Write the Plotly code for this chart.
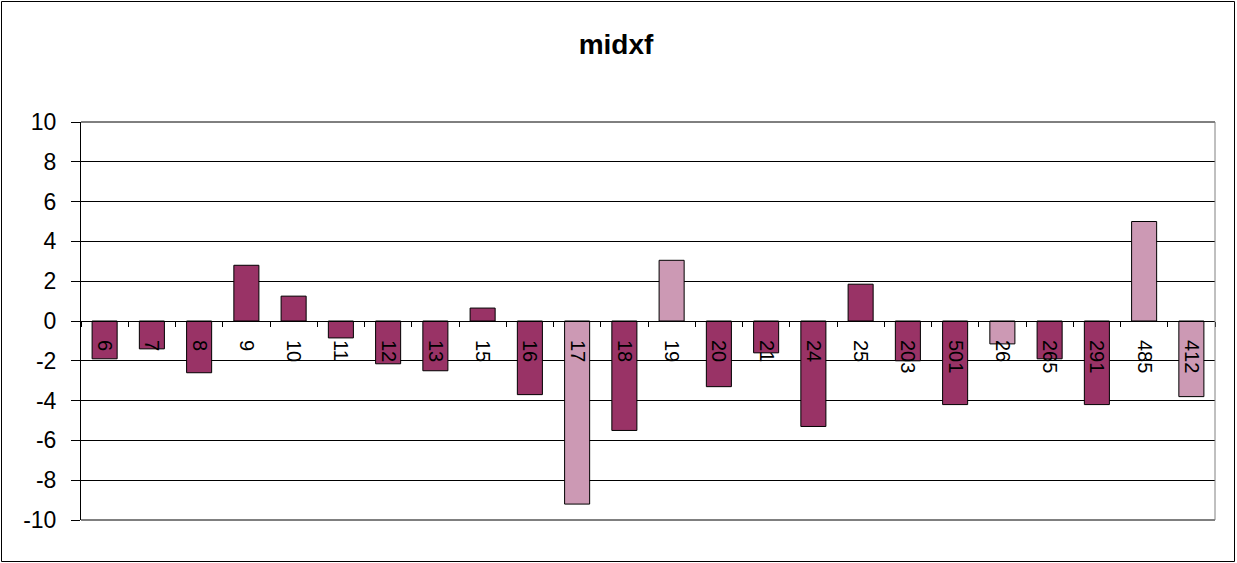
import plotly.graph_objects as go

categories = ["6", "7", "8", "9", "10", "11", "12", "13", "15", "16", "17", "18",
              "19", "20", "21", "24", "25", "203", "501", "26", "265", "291", "485", "412"]
values = [-1.9, -1.4, -2.6, 2.8, 1.25, -0.85, -2.15, -2.5, 0.65, -3.7, -9.2, -5.5,
          3.05, -3.3, -1.6, -5.3, 1.85, -2.0, -4.2, -1.15, -1.9, -4.2, 5.0, -3.8]
highlighted = ["17", "19", "26", "485", "412"]
y_ticks = [-10, -8, -6, -4, -2, 0, 2, 4, 6, 8, 10]
title_text = "midxf"

DARK = "#993366"
LIGHT = "#CC99B4"
colors = [LIGHT if c in highlighted else DARK for c in categories]

W, H = 1237, 563
L, R, T, B = 81, 22, 122, 43
pw, ph = W - L - R, H - T - B

fig = go.Figure(go.Bar(
    x=categories, y=values,
    marker=dict(color=colors, line=dict(color="#000000", width=1)),
    hoverinfo="x+y",
))

fig.update_layout(
    width=W, height=H,
    margin=dict(l=L, r=R, t=T, b=B, pad=0),
    paper_bgcolor="white", plot_bgcolor="white",
    font=dict(family="Liberation Sans, Arial, sans-serif", color="black"),
    bargap=0.47,
    showlegend=False,
    title=dict(text="<b>%s</b>" % title_text, font=dict(size=28),
               x=616 / W, xref="container", xanchor="center",
               y=1 - 44 / H, yref="container", yanchor="middle"),
)

fig.update_xaxes(
    type="category",
    anchor="free", position=0.5,
    showline=True, linecolor="black", linewidth=1,
    ticks="outside", tickson="boundaries", ticklen=5, tickcolor="black",
    tickangle=90, tickfont=dict(size=20),
    ticklabelstandoff=14,
    showgrid=False, zeroline=False,
)
fig.update_yaxes(
    range=[-10, 10], tickvals=y_ticks, ticktext=[str(v) for v in y_ticks],
    showline=True, linecolor="black", linewidth=1,
    ticks="outside", ticklen=9, tickcolor="black",
    tickfont=dict(size=23),
    ticklabelstandoff=10,
    showgrid=True, gridcolor="black", gridwidth=1,
    zeroline=True, zerolinecolor="black", zerolinewidth=1,
)

# gridlines at the range ends (top/bottom), gray right border, outer chart border
for yy in (0, 1):
    fig.add_shape(type="line", xref="paper", yref="paper", x0=0, x1=1, y0=yy, y1=yy,
                  line=dict(color="black", width=1), layer="below")
fig.add_shape(type="line", xref="paper", yref="paper", x0=1, x1=1, y0=0, y1=1,
              line=dict(color="#808080", width=1))
fig.add_shape(type="rect", xref="paper", yref="paper",
              x0=(1.5 - L) / pw, x1=(W - 2.5 - L) / pw,
              y0=-(B - 1.5) / ph, y1=1 + (T - 1.5) / ph,
              line=dict(color="black", width=1), layer="below")

fig.write_html("out.html", config={"displayModeBar": False},
               post_script="document.body.style.margin='0';document.body.style.overflow='hidden';")
